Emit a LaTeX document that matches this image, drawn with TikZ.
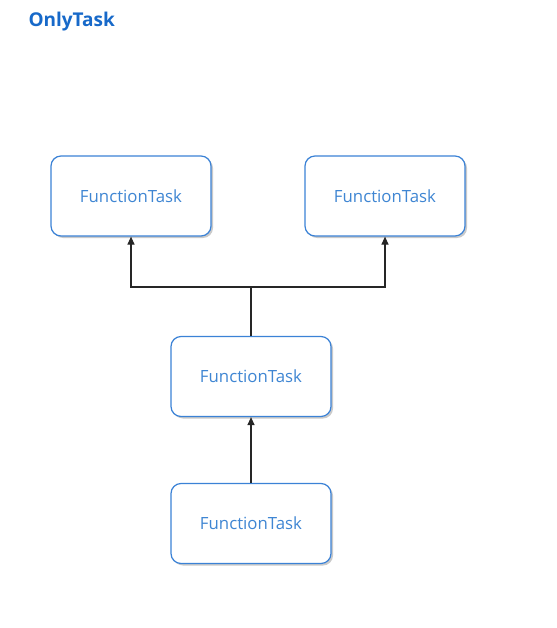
\documentclass[tikz,border=0pt]{standalone}
\usepackage{fontspec}
\setmainfont{Open Sans}
\usetikzlibrary{arrows.meta,shadows}
\definecolor{boxblue}{HTML}{3B82D6}
\definecolor{txtblue}{HTML}{3F86D3}
\definecolor{ttlblue}{HTML}{1769C9}
\tikzset{
  ftask/.style={draw=boxblue, line width=1.2pt, rounded corners=10pt, fill=white,
    minimum width=160pt, minimum height=80pt, text=txtblue,
    font=\fontsize{16.8}{19}\selectfont,
    drop shadow={shadow xshift=2pt, shadow yshift=-2pt, fill=black!35, opacity=0.6}},
  conn/.style={draw=black!85, line width=1.2pt},
  arr/.style={conn, -{Triangle[width=7pt,length=8pt]}}
}
\begin{document}
\begin{tikzpicture}[x=1pt,y=-1pt]
\useasboundingbox (0,0) rectangle (556,628);
\node[anchor=west, text=ttlblue, font=\bfseries\fontsize{19}{22}\selectfont] (title) at (25,22) {OnlyTask};
\node[ftask] (tl) at (131,196) {FunctionTask};
\node[ftask] (tr) at (385,196) {FunctionTask};
\node[ftask] (mid) at (251,376.5) {FunctionTask};
\node[ftask] (bot) at (251,523.5) {FunctionTask};
\coordinate (j) at (251,287);
\draw[conn] (mid.north) -- (j);
\draw[arr] (j) -| (tl.south);
\draw[arr] (j) -| (tr.south);
\draw[arr] (bot.north) -- (mid.south);
\end{tikzpicture}
\end{document}
